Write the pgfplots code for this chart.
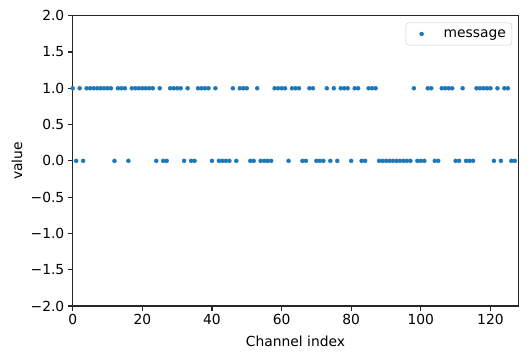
\documentclass[border=0pt]{standalone}
\usepackage{fontspec}
\setmainfont{DejaVu Sans}
\usepackage{pgfplots}
\pgfplotsset{compat=1.18}
\definecolor{mplblue}{HTML}{1F77B4}
\begin{document}
\begin{tikzpicture}
\begin{axis}[
  scale only axis, width=445.6bp, height=290.3bp,
  xmin=0, xmax=128, ymin=-2, ymax=2,
  xtick={0,20,40,60,80,100,120},
  xticklabels={0,20,40,60,80,100,120},
  ytick={-2,-1.5,-1,-0.5,0,0.5,1,1.5,2},
  yticklabels={−2.0,−1.5,−1.0,−0.5,0.0,0.5,1.0,1.5,2.0},
  tick align=outside, tick pos=left, major tick length=4.9bp,
  axis line style={line width=1.1bp, black!85},
  every tick/.style={black!85, line width=1.1bp},
  font=\fontsize{13.9}{16}\selectfont,
  xlabel={Channel index}, ylabel={value},
  xlabel style={at={(axis description cs:0.5,-0.1206)}, anchor=center},
  ylabel style={at={(axis description cs:-0.125,0.5)}, anchor=center, rotate=0},
  legend style={at={(axis description cs:0.986,0.976)}, anchor=north east,
    draw=black!20, rounded corners=3bp, inner xsep=4bp, inner ysep=4.5bp,
    nodes={inner sep=2bp}, column sep=14bp,
    font=\fontsize{13.9}{16}\selectfont},
  legend cell align=left,
  legend image code/.code={\path[draw=none, fill=none] (0bp,0bp) -- (17.7bp,0bp);
    \draw[#1, only marks] plot coordinates {(11.7bp,0bp)};},
]
\addplot[only marks, mark=*, mark size=2bp, color=mplblue] table {
x y
0 1
1 0
2 1
3 0
4 1
5 1
6 1
7 1
8 1
9 1
10 1
11 1
12 0
13 1
14 1
15 1
16 0
17 1
18 1
19 1
20 1
21 1
22 1
23 1
24 0
25 1
26 0
27 0
28 1
29 1
30 1
31 1
32 0
33 1
34 0
35 0
36 1
37 1
38 1
39 1
40 0
41 1
42 0
43 0
44 0
45 0
46 1
47 0
48 1
49 1
50 1
51 0
52 0
53 1
54 0
55 0
56 0
57 0
58 1
59 1
60 1
61 1
62 0
63 1
64 1
65 1
66 0
67 0
68 1
69 1
70 0
71 0
72 0
73 1
74 0
75 1
76 0
77 1
78 1
79 1
80 0
81 1
82 1
83 0
84 0
85 1
86 1
87 1
88 0
89 0
90 0
91 0
92 0
93 0
94 0
95 0
96 0
97 0
98 1
99 0
100 0
101 0
102 1
103 1
104 0
105 0
106 1
107 1
108 1
109 1
110 0
111 0
112 1
113 0
114 0
115 0
116 1
117 1
118 1
119 1
120 1
121 0
122 1
123 0
124 1
125 1
126 0
127 0
};
\addlegendentry{message}
\end{axis}
\pgfresetboundingbox
\path ([shift={(-72.7bp,-53bp)}]current axis.south west) rectangle ([shift={(10.7bp,15.7bp)}]current axis.north east);
\end{tikzpicture}
\end{document}
